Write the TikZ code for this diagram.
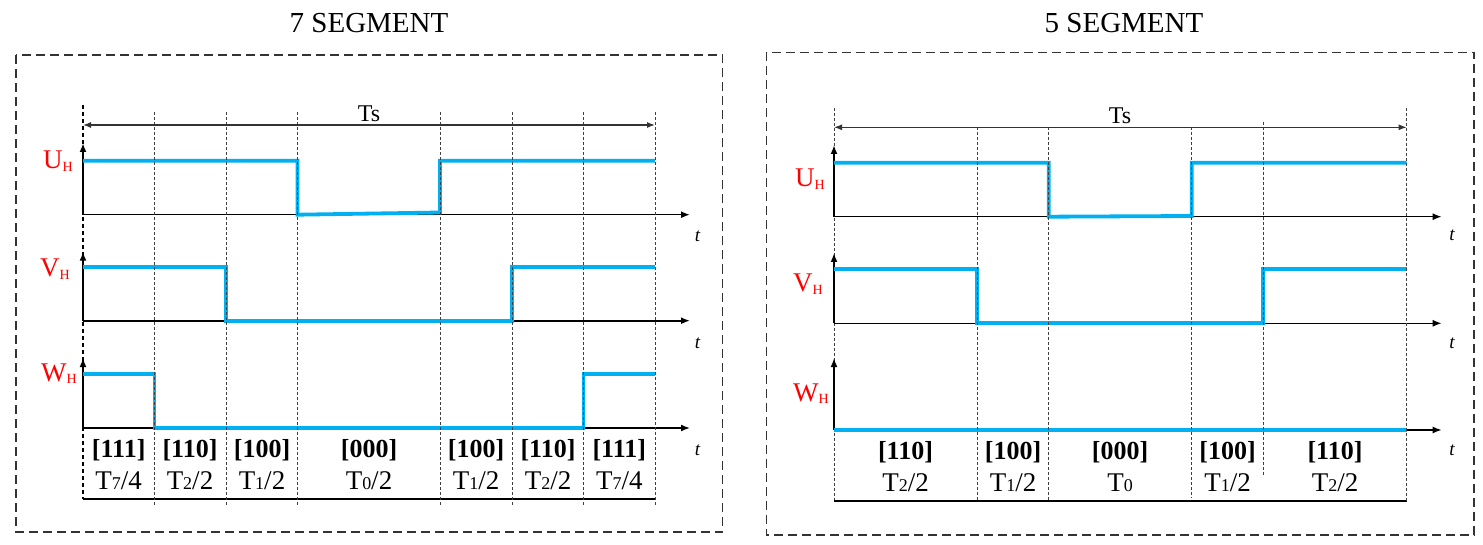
\documentclass[tikz,border=0pt]{standalone}
\usepackage{fontspec}
\setmainfont{Liberation Serif}
\usetikzlibrary{arrows.meta}
\definecolor{wavec}{HTML}{00B0F0}
\definecolor{labred}{HTML}{FF0000}
\newcommand{\sigl}[1]{{\fontsize{27}{27}\selectfont #1}{\fontsize{14}{14}\selectfont\raisebox{-2.5pt}{H}}}
\newcommand{\durl}[2]{{\fontsize{27}{27}\selectfont T}{\fontsize{18}{18}\selectfont #1}{\fontsize{27}{27}\selectfont /#2}}
\newcommand{\durz}[1]{{\fontsize{27}{27}\selectfont T}{\fontsize{18}{18}\selectfont #1}}
\begin{document}
\begin{tikzpicture}[x=1pt,y=-1pt,
  frame/.style={draw=black!80, line width=1.5pt, dash pattern=on 9pt off 5pt},
  title/.style={font=\fontsize{29}{29}\selectfont, anchor=base, inner sep=0pt},
  wave/.style={line width=3.8pt, draw=wavec, line join=miter},
  axis/.style={line width=1.6pt, -{Latex[length=9pt,width=7pt]}},
  yaxis/.style={line width=1.8pt, -{Latex[length=9pt,width=7pt]}},
  baseaxis/.style={line width=1.6pt},
  tsarrow/.style={line width=1.2pt, draw=black!80, {Latex[length=8pt,width=6pt]}-{Latex[length=8pt,width=6pt]}},
  grid/.style={line width=0.8pt, draw=black!75, dash pattern=on 3pt off 2pt},
  axdash/.style={line width=1.5pt, draw=black, dash pattern=on 4pt off 3pt},
  sig/.style={text=labred, anchor=base east, inner sep=0pt},
  tlab/.style={font=\fontsize{19}{19}\selectfont\itshape, anchor=base, inner sep=0pt},
  vec/.style={font=\fontsize{26}{26}\selectfont\bfseries, anchor=base, inner sep=0pt},
  dur/.style={anchor=base, inner sep=0pt},
  tslab/.style={font=\fontsize{24}{24}\selectfont, anchor=base, inner sep=0pt}
]
\useasboundingbox (0,0) rectangle (1483,545);

% ================= LEFT: 7 SEGMENT =================
\draw[frame] (16,55) rectangle (722.5,532);
\node[title] (t7) at (369,33) {7 SEGMENT};

% axes
\draw[axdash] (83,105) -- (83,499);
\draw[yaxis] (83,214.7) -- (83,143);
\draw[axis] (83,214.7) -- (690,214.7);
\draw[yaxis] (83,320.7) -- (83,251.7);
\draw[axis] (83,320.7) -- (690,320.7);
\draw[yaxis] (83,428) -- (83,358);
\draw[axis] (83,428) -- (690,428);
\draw[baseaxis] (83,499) -- (655,499);

% waves
\draw[wave] (83,160.7) -- (297.5,160.7) -- (297.5,214.7) -- (440,212.5) -- (440,160.7) -- (655,160.7);
\draw[wave] (83,267) -- (226,267) -- (226,320.7) -- (512,320.7) -- (512,267) -- (655,267);
\draw[wave] (83,374.3) -- (154.5,374.3) -- (154.5,428) -- (583.5,428) -- (583.5,374.3) -- (655,374.3);

% grid lines
\foreach \x in {154.5,226,297.5,440,512,583.5,655}
  \draw[grid] (\x,112) -- (\x,506);

% Ts
\coordinate (lts1) at (83,125);
\coordinate (lts2) at (655,125);
\draw[tsarrow] (lts1) -- (lts2);
\node[tslab] (lts) at (369,122) {Ts};

% signal labels
\node[sig] (lu) at (73,169) {\sigl{U}};
\node[sig] (lv) at (70,276.5) {\sigl{V}};
\node[sig] (lw) at (77,381) {\sigl{W}};

% t labels
\node[tlab] (lt1) at (697.5,241.5) {t};
\node[tlab] (lt2) at (697.5,348) {t};
\node[tlab] (lt3) at (697.5,455) {t};

% vectors and durations
\foreach \cx/\v/\a/\b in {118.7/111/7/4, 190/110/2/2, 262/100/1/2, 369/000/0/2, 476/100/1/2, 548/110/2/2, 619.3/111/7/4}{
  \node[vec] at (\cx,457.5) {[\v]};
  \node[dur] at (\cx,489.3) {\durl{\a}{\b}};
}

% ================= RIGHT: 5 SEGMENT =================
\draw[frame] (766.5,52.5) rectangle (1474,535);
\node[title] (t5) at (1124,33) {5 SEGMENT};

\draw[grid] (834,108) -- (834,501);

% axes
\draw[yaxis] (834,216.7) -- (834,145);
\draw[axis] (834,216.7) -- (1441.7,216.7);
\draw[yaxis] (834,323.3) -- (834,253);
\draw[axis] (834,323.3) -- (1441.7,323.3);
\draw[yaxis] (834,430) -- (834,358);
\draw[axis] (834,430) -- (1441.7,430);
\draw[baseaxis] (834,501) -- (1406.7,501);

% waves
\draw[wave] (834,162.7) -- (1048.7,162.7) -- (1048.7,216.7) -- (1191.7,216) -- (1191.7,162.7) -- (1406.7,162.7);
\draw[wave] (834,269.3) -- (977,269.3) -- (977,323.3) -- (1263.3,323.3) -- (1263.3,269.3) -- (1406.7,269.3);
\draw[wave] (834,430) -- (1406.7,430);

% grid lines
\draw[grid] (977,127) -- (977,501);
\draw[grid] (1048.7,127) -- (1048.7,501);
\draw[grid] (1191.7,127) -- (1191.7,498);
\draw[grid] (1263.3,121.7) -- (1263.3,475);
\draw[grid] (1406.7,108) -- (1406.7,501);

% Ts
\coordinate (rts1) at (834,127.3);
\coordinate (rts2) at (1406.7,127.3);
\draw[tsarrow] (rts1) -- (rts2);
\node[tslab] (rts) at (1120,124) {Ts};

% signal labels
\node[sig] (ru) at (825,187) {\sigl{U}};
\node[sig] (rv) at (823,292) {\sigl{V}};
\node[sig] (rw) at (829,401) {\sigl{W}};

% t labels
\node[tlab] (rt1) at (1452,241) {t};
\node[tlab] (rt2) at (1452,348.3) {t};
\node[tlab] (rt3) at (1452,455) {t};

% vectors and durations
\foreach \cx/\v in {905.5/110, 1013/100, 1120/000, 1227.5/100, 1335/110}
  \node[vec] at (\cx,459.3) {[\v]};
\node[dur] (rd1) at (905.5,491.7) {\durl{2}{2}};
\node[dur] (rd2) at (1013,491.7) {\durl{1}{2}};
\node[dur] (rd3) at (1120,491.7) {\durz{0}};
\node[dur] (rd4) at (1227.5,491.7) {\durl{1}{2}};
\node[dur] (rd5) at (1335,491.7) {\durl{2}{2}};
\end{tikzpicture}
\end{document}
